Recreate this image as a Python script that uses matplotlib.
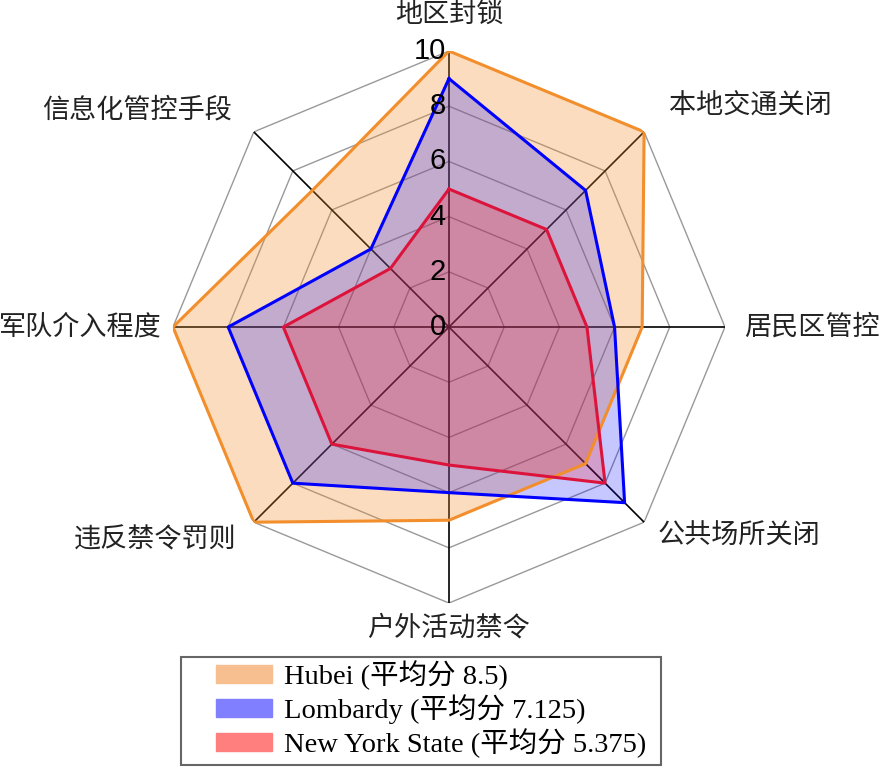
import numpy as np
import matplotlib.pyplot as plt
from matplotlib.patches import Patch, Rectangle
from matplotlib.transforms import offset_copy

plt.rcParams['font.family'] = ['Noto Sans CJK SC', 'DejaVu Sans']

categories = ['地区封锁', '本地交通关闭', '居民区管控', '公共场所关闭',
              '户外活动禁令', '违反禁令罚则', '军队介入程度', '信息化管控手段']
hubei = [10, 10, 7, 7, 7, 10, 10, 7]
lombardy = [9, 7, 6, 9, 6, 8, 8, 4]
new_york = [5, 5, 5, 8, 5, 6, 6, 3]
series_names = ['Hubei (平均分 8.5)', 'Lombardy (平均分 7.125)', 'New York State (平均分 5.375)']
ticks = [0, 2, 4, 6, 8, 10]

line_colors = ['#f28e2b', '#0000ff', '#dc143c']
fill_colors = ['#f28e2b', '#0000ff', '#ff0000']
fill_alpha = [0.3, 0.22, 0.2]
legend_colors = ['#f7bf8f', '#7f7fff', '#ff7f7f']

n = len(categories)
theta = np.arange(n) * 2 * np.pi / n

fig = plt.figure(figsize=(8.81, 7.68), dpi=100)
ax = fig.add_axes([0.1963, 0.2148, 0.6266, 0.71875], projection='polar')
ax.set_theta_zero_location('N')
ax.set_theta_direction(-1)
ax.set_ylim(0, 10)
ax.grid(False)
ax.set_xticks([])
ax.set_yticks([])
ax.spines['polar'].set_visible(False)

# octagon grid
tc = np.append(theta, theta[0])
for r in ticks[1:]:
    ax.plot(tc, [r] * (n + 1), color='#999999', lw=1.0, zorder=1)
for t in theta:
    ax.plot([t, t], [0, 10], color='black', lw=1.2, zorder=1)

for vals, lc, fc, a in zip([hubei, lombardy, new_york], line_colors, fill_colors, fill_alpha):
    v = np.append(vals, vals[0])
    ax.fill(tc, v, color=fc, alpha=a, lw=0, zorder=2)
    ax.plot(tc, v, color=lc, lw=2.2, zorder=3)

tick_tr = offset_copy(ax.transData, fig=fig, x=-3, y=0, units='dots')
for r in ticks:
    ax.text(0, r, str(r), ha='right', va='center', fontsize=21, transform=tick_tr,
            family=['Liberation Sans', 'DejaVu Sans'], zorder=4)

label_pos = [(10.8, 'center', 'bottom'), (11.3, 'left', 'center'), (10.7, 'left', 'center'),
             (10.7, 'left', 'center'), (10.4, 'center', 'top'), (10.9, 'right', 'center'),
             (10.4, 'right', 'center'), (11.1, 'right', 'center')]
for t, lab, (r, ha, va) in zip(theta, categories, label_pos):
    ax.text(t, r, lab, ha=ha, va=va, fontsize=19.5, color='#222222')

# legend box drawn separately
fig.patches.append(Rectangle((181 / 881, 1 - 765 / 768), 480 / 881, 108 / 768,
                             transform=fig.transFigure, fill=False,
                             edgecolor='#666666', lw=1.5))
handles = [Patch(color=c) for c in legend_colors]
leg = fig.legend(handles, series_names, loc='center left',
                 bbox_to_anchor=(216 / 881, 1 - 709 / 768),
                 prop={'family': ['Liberation Serif', 'Noto Sans CJK SC'], 'size': 20.5},
                 frameon=False, handlelength=1.95, handleheight=0.62,
                 labelspacing=0.15, borderpad=0, handletextpad=0.45, borderaxespad=0)

fig.savefig('out.png', dpi=100)
